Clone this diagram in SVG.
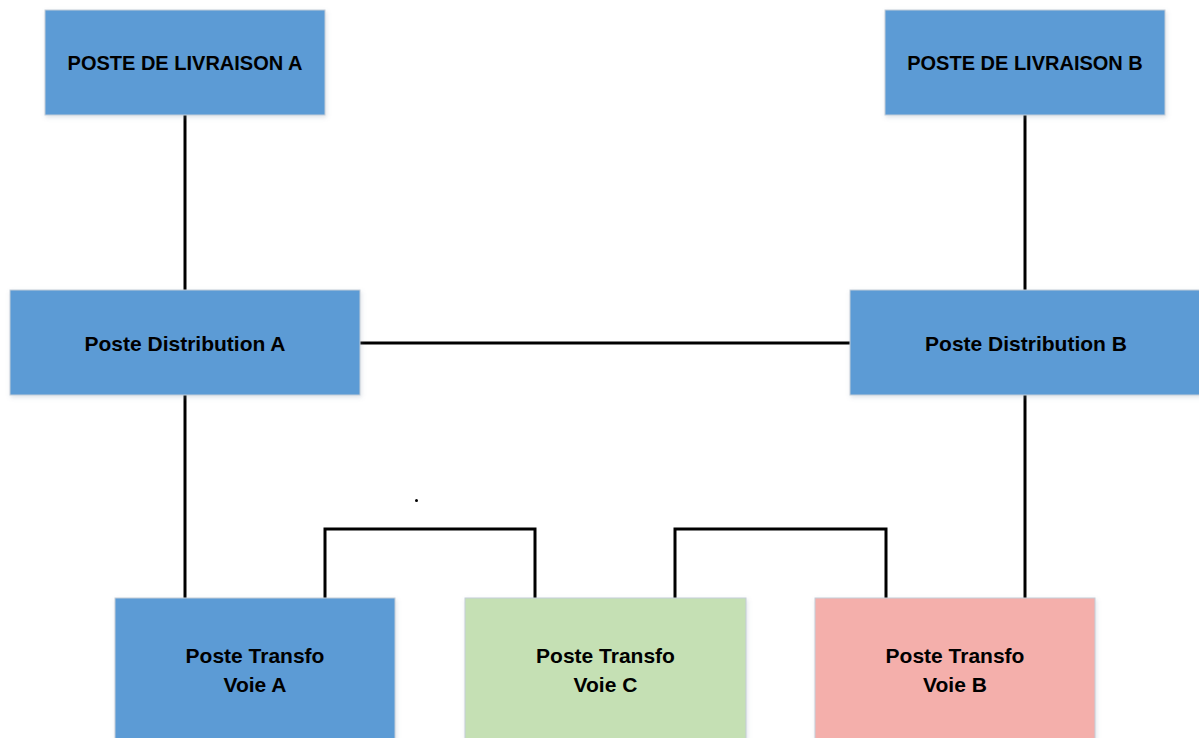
<svg xmlns="http://www.w3.org/2000/svg" width="1199" height="738" viewBox="0 0 1199 738">
  <style>
    .box { stroke: #c4cdd8; stroke-width: 1; filter: url(#shadow); }
    .blue { fill: #5b9bd5; }
    .green { fill: #c5e0b4; }
    .pink { fill: #f4afab; }
    .label { font-family: "Liberation Sans", Arial, sans-serif; font-weight: bold; font-size: 21px; fill: #000; text-anchor: middle; }
    .caps { font-size: 20px; }
    .wire { fill: none; stroke: #000; stroke-width: 3; }
  </style>
  <defs>
    <filter id="shadow" x="-5%" y="-5%" width="110%" height="115%">
      <feDropShadow dx="1" dy="2" stdDeviation="2" flood-color="#7f8fa6" flood-opacity="0.25"/>
    </filter>
  </defs>
  <rect width="1199" height="738" fill="#fff"/>

  <!-- connectors -->
  <g id="connectors">
    <line class="wire" x1="185" y1="115" x2="185" y2="290"/>
    <line class="wire" x1="1025" y1="115" x2="1025" y2="290"/>
    <line class="wire" x1="360" y1="343" x2="850" y2="343"/>
    <line class="wire" x1="185" y1="395" x2="185" y2="598"/>
    <line class="wire" x1="1025" y1="395" x2="1025" y2="598"/>
    <polyline class="wire" points="325,598 325,529 535,529 535,598"/>
    <polyline class="wire" points="675,598 675,529 886,529 886,598"/>
    <circle cx="416.5" cy="500.5" r="1.5" fill="#000"/>
  </g>

  <g id="livraison-a">
    <rect class="box blue" x="45" y="10" width="280" height="105"/>
    <text class="label caps" x="185" y="70">POSTE DE LIVRAISON A</text>
  </g>
  <g id="livraison-b">
    <rect class="box blue" x="885" y="10" width="280" height="105"/>
    <text class="label caps" x="1025" y="70">POSTE DE LIVRAISON B</text>
  </g>
  <g id="distribution-a">
    <rect class="box blue" x="10" y="290" width="350" height="105"/>
    <text class="label" x="185" y="351">Poste Distribution A</text>
  </g>
  <g id="distribution-b">
    <rect class="box blue" x="850" y="290" width="352" height="105"/>
    <text class="label" x="1026" y="351">Poste Distribution B</text>
  </g>
  <g id="transfo-a">
    <rect class="box blue" x="115" y="598" width="280" height="150"/>
    <text class="label" x="255" y="663">Poste Transfo</text>
    <text class="label" x="255" y="692">Voie A</text>
  </g>
  <g id="transfo-c">
    <rect class="box green" x="465" y="598" width="281" height="150"/>
    <text class="label" x="605.5" y="663">Poste Transfo</text>
    <text class="label" x="605.5" y="692">Voie C</text>
  </g>
  <g id="transfo-b">
    <rect class="box pink" x="815" y="598" width="280" height="150"/>
    <text class="label" x="955" y="663">Poste Transfo</text>
    <text class="label" x="955" y="692">Voie B</text>
  </g>
</svg>
